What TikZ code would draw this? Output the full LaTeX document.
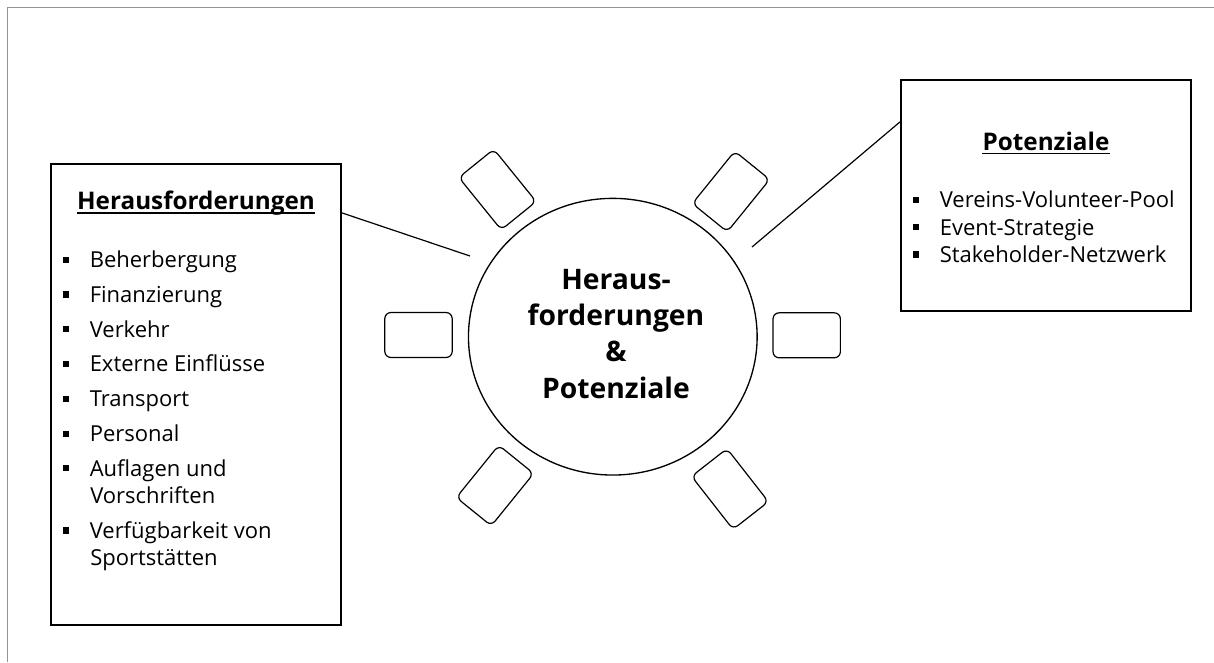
\documentclass[tikz,border=0pt]{standalone}
\usepackage{fontspec}
\setmainfont{Open Sans}
\usetikzlibrary{shapes.geometric,calc}
\newcommand\sqbul{\rule[3.6pt]{4.6pt}{4.6pt}\hspace{15.5pt}}
\begin{document}
\begin{tikzpicture}[x=0.75pt,y=-0.75pt,
  frame/.style={draw=black!42,line width=0.75pt},
  bigbox/.style={draw,line width=1.6pt,inner sep=0pt,minimum width=217.5pt},
  chair/.style={draw,line width=0.9pt,rounded corners=4.5pt,inner sep=0pt,minimum width=50.5pt,minimum height=33.7pt},
  txt/.style={inner sep=0pt,anchor=base west,font=\fontsize{16.5}{20}\selectfont},
  ttl/.style={inner sep=0pt,anchor=base,font=\fontsize{18.2}{22}\selectfont\bfseries},
  ctr/.style={inner sep=0pt,anchor=base,font=\fontsize{21.2}{26}\selectfont\bfseries},
  conn/.style={line width=0.9pt},
  uline/.style={line width=1.1pt}]
\useasboundingbox (0,0) rectangle (1214,662);
% page frame
\draw[frame] (7,662) -- (7,7) -- (1214,7);
% table and chairs
\node[ellipse,draw,line width=1pt,inner sep=0pt,minimum width=216.5pt,minimum height=207.5pt] (table) at (612.8,336.7) {};
\node[chair] (chL) at (418.5,335) {};
\node[chair] (chR) at (806.7,335.3) {};
\node[chair,rotate=-51] (chTL) at (497.5,189.5) {};
\node[chair,rotate=51] (chTR) at (731,191.5) {};
\node[chair,rotate=51] (chBL) at (495,485.5) {};
\node[chair,rotate=-52] (chBR) at (730,489) {};
% centre text
\node[ctr] (c1) at (616,289.3) {Heraus-};
\node[ctr] (c2) at (616,325.3) {forderungen};
\node[ctr] (c3) at (616,361.7) {\&};
\node[ctr] (c4) at (616,398.3) {Potenziale};
% left box
\node[bigbox,minimum height=345.75pt] (lbox) at (196,394.5) {};
\node[ttl] (lttl) at (196,209.3) {Herausforderungen};
\draw[uline] ($(lttl.base west)+(0,3.5)$) -- ($(lttl.base east)+(0,3.5)$);
\node[txt] (l1) at (62.7,267.7) {\sqbul Beherbergung};
\node[txt] (l2) at (62.7,302.4) {\sqbul Finanzierung};
\node[txt] (l3) at (62.7,337.1) {\sqbul Verkehr};
\node[txt] (l4) at (62.7,371.8) {\sqbul Externe Einflüsse};
\node[txt] (l5) at (62.7,406.5) {\sqbul Transport};
\node[txt] (l6) at (62.7,441.5) {\sqbul Personal};
\node[txt] (l7) at (62.7,476) {\sqbul Auflagen und};
\node[txt] (l7b) at (90,503.2) {Vorschriften};
\node[txt] (l8) at (62.7,538.3) {\sqbul Verfügbarkeit von};
\node[txt] (l8b) at (90,565.6) {Sportstätten};
% right box
\node[bigbox,minimum height=173.25pt] (rbox) at (1046,195.5) {};
\node[ttl] (rttl) at (1046,150) {Potenziale};
\draw[uline] ($(rttl.base west)+(0,3.5)$) -- ($(rttl.base east)+(0,3.5)$);
\node[txt] (r1) at (912.7,207.7) {\sqbul Vereins-Volunteer-Pool};
\node[txt] (r2) at (912.7,235) {\sqbul Event-Strategie};
\node[txt] (r3) at (912.7,262.3) {\sqbul Stakeholder-Netzwerk};
% connectors
\coordinate (lend) at (470,256);
\coordinate (rend) at (752,247);
\draw[conn] ($(lbox.north east)+(0,50)$) -- (lend);
\draw[conn] ($(rbox.north west)+(0,43)$) -- (rend);
\end{tikzpicture}
\end{document}
